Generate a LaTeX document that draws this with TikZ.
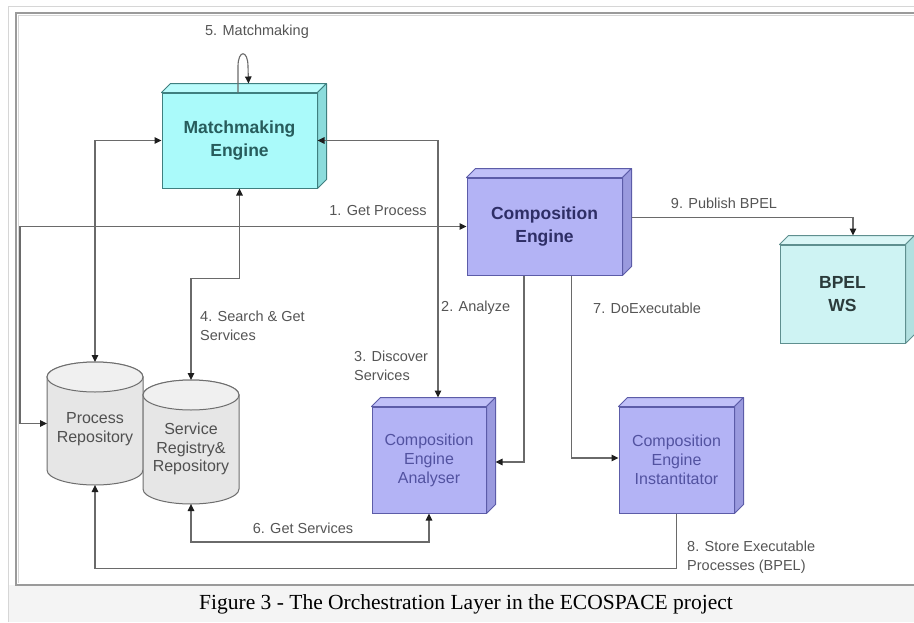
\documentclass[tikz,border=0pt]{standalone}
\usepackage{fontspec}
\setmainfont{Liberation Sans}
\newfontfamily\capfont{Liberation Serif}
\usetikzlibrary{arrows.meta}

\definecolor{cyanfront}{HTML}{AAFAFA}
\definecolor{cyantop}{HTML}{BAFCFC}
\definecolor{cyanside}{HTML}{8CDCDC}
\definecolor{cyanedge}{HTML}{3F7F7F}
\definecolor{cyantext}{HTML}{275C5C}
\definecolor{paleface}{HTML}{CEF3F3}
\definecolor{paletop}{HTML}{DAF6F6}
\definecolor{paleside}{HTML}{B2E0E0}
\definecolor{paleedge}{HTML}{5F8F8F}
\definecolor{paletext}{HTML}{2B3B3B}
\definecolor{lilacfront}{HTML}{B3B3F5}
\definecolor{lilactop}{HTML}{C0C0F8}
\definecolor{lilacside}{HTML}{9A9ADE}
\definecolor{lilacedge}{HTML}{5C5CA8}
\definecolor{lilacdark}{HTML}{2E2E66}
\definecolor{lilactext}{HTML}{5252A0}
\definecolor{drumfill}{HTML}{E6E6E6}
\definecolor{drumtop}{HTML}{F0F0F0}
\definecolor{drumedge}{HTML}{6E6E6E}
\definecolor{drumtext}{HTML}{505050}
\definecolor{linegray}{HTML}{6A6A6A}
\definecolor{labelgray}{HTML}{555555}
\definecolor{tipblack}{HTML}{1E1E1E}
\definecolor{framedark}{HTML}{9A9A9A}
\definecolor{framelight}{HTML}{D6D6D6}
\definecolor{capbg}{HTML}{F4F4F4}

% top and right faces of a box node, giving it depth
\newcommand\boxdepth[4]{%
  \filldraw[fill=#2, draw=#4, line width=1pt, line join=round]
    (#1.north west) -- ++(9,-9) -- ([shift={(9,-9)}]#1.north east) -- (#1.north east) -- cycle;
  \filldraw[fill=#3, draw=#4, line width=1pt, line join=round]
    (#1.north east) -- ++(9,-9) -- ([shift={(9,-9)}]#1.south east) -- (#1.south east) -- cycle;
}

% a storage drum: left, right, top ellipse centre y, bottom ellipse centre y
\newcommand\drum[4]{%
  \filldraw[fill=drumfill, draw=drumedge, line width=1pt]
    (#1,#3) -- (#1,#4)
    arc[start angle=180, end angle=360, x radius={(#2-#1)/2*1pt}, y radius=15pt]
    -- (#2,#3)
    arc[start angle=0, end angle=180, x radius={(#2-#1)/2*1pt}, y radius=15pt] -- cycle;
  \filldraw[fill=drumtop, draw=drumedge, line width=1pt]
    ({(#1+#2)/2},#3) ellipse[x radius={(#2-#1)/2*1pt}, y radius=15pt];
}

\begin{document}
\begin{tikzpicture}[x=1pt, y=-1pt,
  ptr/.tip={Triangle[length=7pt, width=6.5pt, color=tipblack]},
  conn/.style={draw=linegray, line width=1.1pt},
  lbl/.style={font=\fontsize{14.5}{19}\selectfont, text=labelgray, inner sep=0pt, align=left},
  cubebase/.style={rectangle, line width=1pt, inner sep=0pt, align=center},
  bigcyan/.style={cubebase, draw=cyanedge, fill=cyanfront, text=cyantext,
    font=\bfseries\fontsize{17.5}{23}\selectfont},
  palecyan/.style={cubebase, draw=paleedge, fill=paleface, text=paletext,
    font=\bfseries\fontsize{17.5}{23}\selectfont},
  biglilac/.style={cubebase, draw=lilacedge, fill=lilacfront, text=lilacdark,
    font=\bfseries\fontsize{17.5}{23}\selectfont},
  smalllilac/.style={cubebase, draw=lilacedge, fill=lilacfront, text=lilactext,
    font=\fontsize{16}{19}\selectfont},
  drumspan/.style={rectangle, inner sep=0pt, outer sep=0pt},
  drumlabel/.style={font=\fontsize{16}{18.5}\selectfont, text=drumtext, align=center, inner sep=0pt}
]
\useasboundingbox (0,0) rectangle (914,622);

% page frame and caption band
\fill[white] (0,0) rectangle (914,622);
\fill[capbg] (8.5,585) rectangle (914,622);
\draw[framelight, line width=1pt] (8,622) -- (8,6) -- (914,6);
\draw[framedark, line width=1.3pt] (914,13) -- (16,13) -- (16,585) -- (914,585);
\draw[framelight, line width=0.8pt] (914,15.5) -- (18.5,15.5) -- (18.5,582.5);

% repositories
\drum{47}{143}{377}{470}
\node[drumspan, minimum width=96pt, minimum height=123pt] (pr) at (95,423.5) {};
\node[drumlabel] (prtext) at (95,429) {Process\\Repository};
\drum{143}{239}{395}{489}
\node[drumspan, minimum width=96pt, minimum height=124pt] (srr) at (191,442) {};
\node[drumlabel] (srrtext) at (191,449) {Service\\Registry\&\\Repository};

% engines
\node[bigcyan, minimum width=155pt, minimum height=95pt] (me) at (239.5,140.5) {Matchmaking\\Engine};
\boxdepth{me}{cyantop}{cyanside}{cyanedge}
\node[biglilac, minimum width=155pt, minimum height=97pt] (ce) at (544.5,226.5) {Composition\\Engine};
\boxdepth{ce}{lilactop}{lilacside}{lilacedge}
\node[palecyan, minimum width=125pt, minimum height=98pt] (bpel) at (842.5,294) {BPEL\\WS};
\boxdepth{bpel}{paletop}{paleside}{paleedge}
\node[smalllilac, minimum width=114pt, minimum height=106pt] (cea) at (429,460) {Composition\\Engine\\Analyser};
\boxdepth{cea}{lilactop}{lilacside}{lilacedge}
\node[smalllilac, minimum width=115pt, minimum height=106pt] (cei) at (676.5,460) {Composition\\Engine\\Instantitator};
\boxdepth{cei}{lilactop}{lilacside}{lilacedge}

% connectors
\draw[conn, -ptr] ([xshift=-1.5pt]me.north) -- ++(0,-26)
  .. controls +(0,-17) and +(0,-17) .. ++(10,0) -- ([shift={(9,-9)}]me.north);
\draw[conn, ptr-ptr] (pr.west) -- ++(-27,0) |- (ce.west);
\draw[conn, ptr-ptr] (me.west) -| (pr.north);
\draw[conn, ptr-ptr] (me.east) -| ([shift={(9,-9)}]cea.north);
\draw[conn, ptr-ptr] (me.south) -- ++(0,90) -| (srr.north);
\draw[conn, ptr-ptr] (srr.south) -- ++(0,38) -| (cea.south);
\draw[conn, -ptr] ([xshift=-20.5pt]ce.south) |- ([shift={(9,2)}]cea.east);
\draw[conn, -ptr] ([xshift=27pt]ce.south) |- ([yshift=2pt]cei.west);
\draw[conn, -ptr] (cei.south) -- ++(0,55) -| (pr.south);
\draw[conn, -ptr] ([shift={(9,-9)}]ce.east) -| ([shift={(10.5,-9)}]bpel.north);

% connector labels
\node[lbl] (l5) at (257,32) {5. Matchmaking};
\node[lbl] (l1) at (378,211) {1. Get Process};
\node[lbl] (l9) at (724,203) {9. Publish BPEL};
\node[lbl, anchor=west] (l4) at (200,325.5) {4. Search \& Get\\Services};
\node[lbl, anchor=west] (l3) at (354,366) {3. Discover\\Services};
\node[lbl, anchor=west] (l2) at (441,308) {2. Analyze};
\node[lbl, anchor=west] (l7) at (593,308) {7. DoExecutable};
\node[lbl] (l6) at (303,528) {6. Get Services};
\node[lbl, anchor=west] (l8) at (687,557.5) {8. Store Executable\\Processes (BPEL)};

% caption
\node[font=\capfont\fontsize{21.5}{24}\selectfont, inner sep=0pt] (caption) at (466,604)
  {Figure 3 - The Orchestration Layer in the ECOSPACE project};
\end{tikzpicture}
\end{document}
